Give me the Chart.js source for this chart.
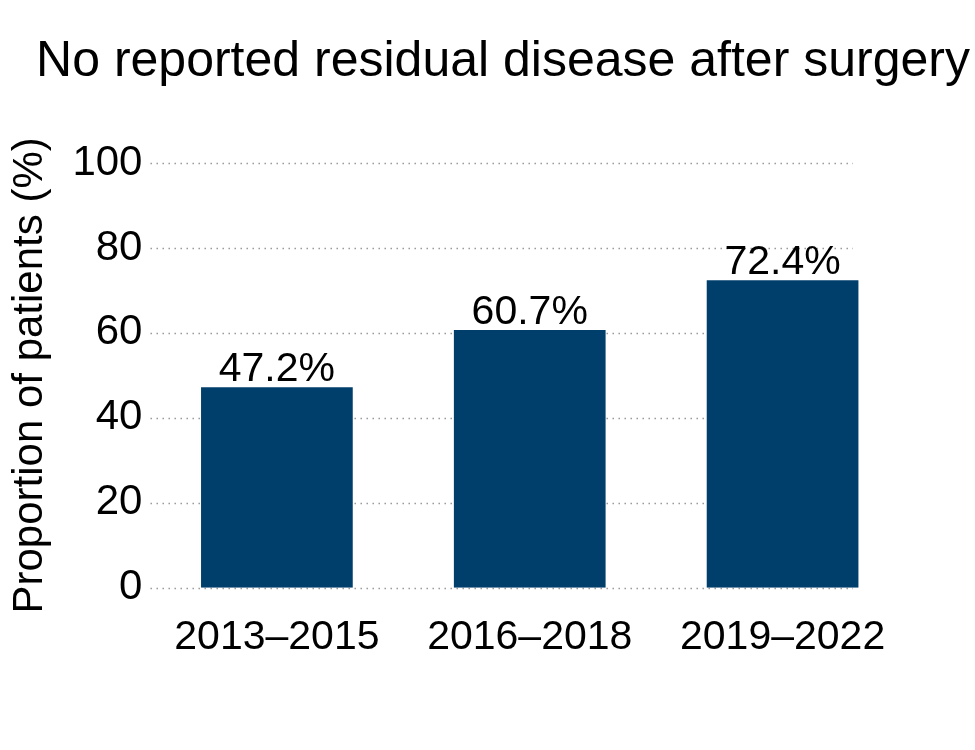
<!DOCTYPE html>
<html>
<head>
<meta charset="utf-8">
<script src="https://cdn.jsdelivr.net/npm/chart.js@4"></script>
<style>
  html, body { margin: 0; padding: 0; background: #fff; }
  #wrap { width: 975px; height: 750px; }
</style>
</head>
<body>
<div id="wrap"><canvas id="chart"></canvas></div>
<script>
const titleText = "No reported residual disease after surgery";
const periods = ["2013\u20132015", "2016\u20132018", "2019\u20132022"];
const proportions = [47.2, 60.7, 72.4];
const yTicks = [0, 20, 40, 60, 80, 100];

const FONT = "'Liberation Sans', Arial, sans-serif";

// title centred on its own, dotted grid that stops short of the right edge, labels on bars
const extras = {
  id: "extras",
  beforeDatasetsDraw(chart) {
    const { ctx, chartArea, scales } = chart;
    ctx.save();
    ctx.strokeStyle = "#999";
    ctx.lineWidth = 1.3;
    ctx.setLineDash([1.5, 4.5]);
    yTicks.forEach((t) => {
      const y = Math.round(scales.y.getPixelForValue(t)) + 0.5;
      ctx.beginPath();
      ctx.moveTo(chartArea.left, y);
      ctx.lineTo(chartArea.right - 56, y);
      ctx.stroke();
    });
    ctx.restore();
  },
  afterDatasetsDraw(chart) {
    const { ctx } = chart;
    ctx.save();
    ctx.fillStyle = "#000";
    ctx.font = "41px " + FONT;
    ctx.textAlign = "center";
    ctx.textBaseline = "alphabetic";
    chart.getDatasetMeta(0).data.forEach((bar, i) => {
      ctx.fillText(proportions[i].toFixed(1) + "%", bar.x, bar.y - 6);
    });
    ctx.font = "50px " + FONT;
    ctx.fillText(titleText, 503, 76);
    ctx.restore();
  }
};

new Chart(document.getElementById("chart"), {
  type: "bar",
  data: {
    labels: periods,
    datasets: [{
      data: proportions,
      backgroundColor: "#003e6b",
      barPercentage: 0.6,
      categoryPercentage: 1
    }]
  },
  options: {
    responsive: true,
    maintainAspectRatio: false,
    animation: false,
    layout: { padding: { top: 163, right: 66, bottom: 71, left: 5 } },
    plugins: {
      legend: { display: false },
      tooltip: { enabled: false }
    },
    scales: {
      x: {
        grid: { display: false },
        border: { display: false },
        ticks: { color: "#000", font: { family: FONT, size: 41 }, padding: 17 }
      },
      y: {
        min: 0,
        max: 100,
        grid: { display: false },
        border: { display: false },
        ticks: { stepSize: 20, color: "#000", font: { family: FONT, size: 42 }, padding: 0 },
        title: {
          display: true,
          text: "Proportion of patients (%)",
          color: "#000",
          font: { family: FONT, size: 42 },
          padding: { top: 0, bottom: 17 }
        }
      }
    }
  },
  plugins: [extras]
});
</script>
</body>
</html>
